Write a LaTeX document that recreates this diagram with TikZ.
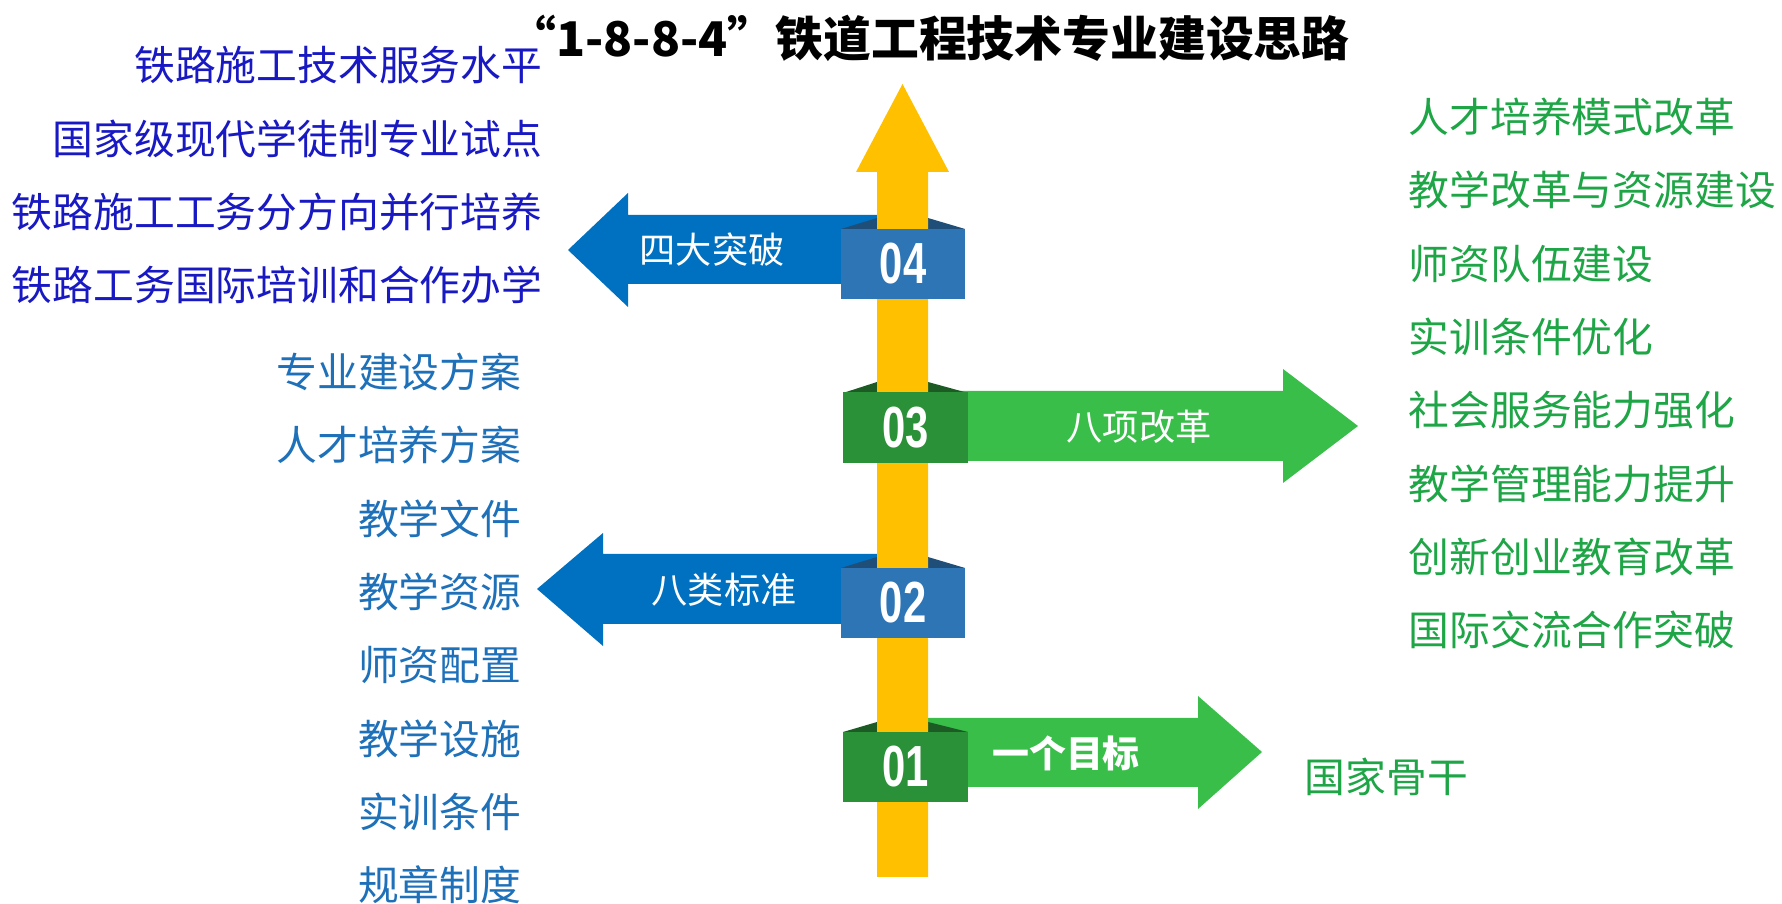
\documentclass[tikz,border=0pt]{standalone}
\usepackage{fontspec}
\setmainfont{Liberation Sans}
\newfontfamily\cjk{Noto Sans CJK SC}
\usetikzlibrary{positioning}
\definecolor{gold}{RGB}{255,192,0}
\definecolor{bluearr}{RGB}{0,112,192}
\definecolor{bluebox}{RGB}{46,117,182}
\definecolor{bluefold}{RGB}{31,78,121}
\definecolor{greenarr}{RGB}{57,190,74}
\definecolor{greenbox}{RGB}{42,145,56}
\definecolor{greenfold}{RGB}{28,92,36}
\definecolor{inkdeep}{RGB}{25,25,195}
\definecolor{inkblue}{RGB}{30,112,185}
\definecolor{inkgreen}{RGB}{30,165,70}

\begin{document}
\begin{tikzpicture}[x=0.01cm,y=-0.01cm,
  txt/.style={inner sep=0pt,font=\cjk\fontsize{11.6pt}{14pt}\selectfont},
  onarrow/.style={inner sep=0pt,text=white,font=\cjk\fontsize{10.3pt}{12pt}\selectfont},
  numbox/.style={minimum width=1.245cm,minimum height=0.70cm,inner sep=0pt,text=white,
    font=\fontsize{16.5pt}{18pt}\selectfont\bfseries}]
\useasboundingbox (0,0) rectangle (1782,904);

% title
\node[inner sep=0pt,font=\cjk\fontsize{13.6pt}{16pt}\selectfont\bfseries] (title) at (929,38)
  {“1-8-8-4”铁道工程技术专业建设思路};

% arrows to the sides
\fill[bluearr] (877,215) -- (628,215) -- (628,193) -- (568,250) -- (628,307) -- (628,284) -- (877,284) -- cycle;
\fill[greenarr] (900,391) -- (1283,391) -- (1283,369) -- (1358,426) -- (1283,483) -- (1283,461) -- (900,461) -- cycle;
\fill[bluearr] (877,554) -- (603,554) -- (603,533) -- (537,589) -- (603,646) -- (603,624) -- (877,624) -- cycle;
\fill[greenarr] (900,718) -- (1198,718) -- (1198,696) -- (1262,752) -- (1198,809) -- (1198,787) -- (900,787) -- cycle;

% folds behind the boxes
\fill[bluefold] (841,229) -- (877,218) -- (928,218) -- (965,229) -- cycle;
\fill[greenfold] (843,393) -- (877,382) -- (928,382) -- (968,393) -- cycle;
\fill[bluefold] (841,568) -- (877,557) -- (928,557) -- (965,568) -- cycle;
\fill[greenfold] (843,732) -- (877,722) -- (928,722) -- (968,732) -- cycle;

% main shaft
\fill[gold] (877,877) -- (877,172) -- (856,172) -- (902.5,84) -- (949,172) -- (928,172) -- (928,877) -- cycle;

% numbered boxes
\node[numbox,fill=bluebox] (n4) at (903,264) {\scalebox{0.72}[1]{04}};
\node[numbox,fill=greenbox] (n3) at (905.5,427.5) {\scalebox{0.72}[1]{03}};
\node[numbox,fill=bluebox] (n2) at (903,603) {\scalebox{0.72}[1]{02}};
\node[numbox,fill=greenbox] (n1) at (905.5,767) {\scalebox{0.72}[1]{01}};

% texts on the arrows
\node[onarrow] (a4) at (712,250) {四大突破};
\node[onarrow] (a3) at (1139,427) {八项改革};
\node[onarrow] (a2) at (724,590) {八类标准};
\node[onarrow,font=\cjk\fontsize{10.5pt}{12pt}\selectfont\bfseries] (a1) at (1066,753) {一个目标};

% four breakthroughs
\node[txt,text=inkdeep,anchor=east] (brk1) at (543,65) {铁路施工技术服务水平};
\node[txt,text=inkdeep,anchor=east] (brk2) at (543,139) {国家级现代学徒制专业试点};
\node[txt,text=inkdeep,anchor=east] (brk3) at (543,212) {铁路施工工务分方向并行培养};
\node[txt,text=inkdeep,anchor=east] (brk4) at (543,285) {铁路工务国际培训和合作办学};

% eight standards
\node[txt,text=inkblue,anchor=east] (std1) at (522,372) {专业建设方案};
\node[txt,text=inkblue,anchor=east] (std2) at (522,445) {人才培养方案};
\node[txt,text=inkblue,anchor=east] (std3) at (522,519) {教学文件};
\node[txt,text=inkblue,anchor=east] (std4) at (522,592) {教学资源};
\node[txt,text=inkblue,anchor=east] (std5) at (522,665) {师资配置};
\node[txt,text=inkblue,anchor=east] (std6) at (522,739) {教学设施};
\node[txt,text=inkblue,anchor=east] (std7) at (522,812) {实训条件};
\node[txt,text=inkblue,anchor=east] (std8) at (522,885) {规章制度};

% eight reforms
\node[txt,text=inkgreen,anchor=west] (ref1) at (1408,117) {人才培养模式改革};
\node[txt,text=inkgreen,anchor=west] (ref2) at (1408,190) {教学改革与资源建设};
\node[txt,text=inkgreen,anchor=west] (ref3) at (1408,264) {师资队伍建设};
\node[txt,text=inkgreen,anchor=west] (ref4) at (1408,337) {实训条件优化};
\node[txt,text=inkgreen,anchor=west] (ref5) at (1408,410) {社会服务能力强化};
\node[txt,text=inkgreen,anchor=west] (ref6) at (1408,484) {教学管理能力提升};
\node[txt,text=inkgreen,anchor=west] (ref7) at (1408,557) {创新创业教育改革};
\node[txt,text=inkgreen,anchor=west] (ref8) at (1408,630) {国际交流合作突破};

% one goal
\node[txt,text=inkgreen,anchor=west] (goal) at (1304,777) {国家骨干};
\end{tikzpicture}
\end{document}
